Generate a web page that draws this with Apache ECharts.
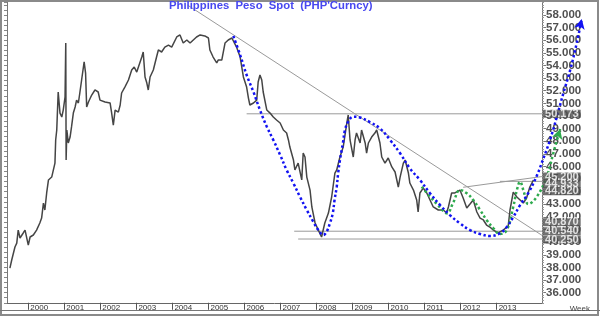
<!DOCTYPE html>
<html>
<head>
<meta charset="utf-8">
<script src="https://cdn.jsdelivr.net/npm/echarts@6/dist/echarts.min.js"></script>
<style>html,body{margin:0;padding:0;background:#fff}#c{width:600px;height:317px}</style>
</head>
<body>
<div id="c"></div>
<script>
// ---- price (weekly) : decimal year / PHP per USD
const priceYears = [1999.49,1999.54,1999.63,1999.68,1999.72,1999.77,1999.86,1999.91,2000.00,2000.05,2000.14,2000.23,2000.32,2000.37,2000.42,2000.46,2000.51,2000.56,2000.65,2000.74,2000.76,2000.79,2000.83,2000.88,2000.93,2000.97,2001.02,2001.04,2001.05,2001.07,2001.11,2001.16,2001.20,2001.25,2001.30,2001.34,2001.39,2001.43,2001.48,2001.53,2001.55,2001.59,2001.62,2001.67,2001.76,2001.85,2001.94,2001.99,2002.13,2002.27,2002.31,2002.36,2002.41,2002.50,2002.55,2002.59,2002.68,2002.78,2002.87,2002.94,2003.01,2003.15,2003.19,2003.24,2003.29,2003.33,2003.38,2003.47,2003.56,2003.61,2003.70,2003.79,2003.89,2003.98,2004.12,2004.21,2004.30,2004.40,2004.49,2004.58,2004.67,2004.77,2004.90,2005.00,2005.04,2005.13,2005.23,2005.27,2005.37,2005.46,2005.55,2005.65,2005.69,2005.78,2005.88,2005.97,2006.06,2006.11,2006.15,2006.25,2006.34,2006.38,2006.43,2006.48,2006.52,2006.62,2006.71,2006.80,2006.89,2006.99,2007.08,2007.17,2007.22,2007.26,2007.36,2007.40,2007.49,2007.59,2007.63,2007.68,2007.73,2007.82,2007.87,2007.96,2008.05,2008.14,2008.23,2008.33,2008.42,2008.51,2008.56,2008.65,2008.74,2008.84,2008.88,2008.93,2009.02,2009.07,2009.11,2009.21,2009.25,2009.35,2009.39,2009.44,2009.53,2009.62,2009.67,2009.76,2009.81,2009.90,2009.99,2010.09,2010.18,2010.27,2010.32,2010.41,2010.46,2010.55,2010.59,2010.69,2010.78,2010.82,2010.87,2010.96,2011.06,2011.15,2011.24,2011.38,2011.52,2011.61,2011.66,2011.75,2011.84,2011.98,2012.07,2012.17,2012.26,2012.35,2012.45,2012.54,2012.63,2012.72,2012.81,2012.91,2013.04,2013.18,2013.32,2013.37,2013.46,2013.56,2013.65,2013.74,2013.83,2013.92,2014.02];
const priceValues = [37.95,38.59,39.62,39.93,40.96,40.33,40.73,40.96,39.77,40.41,40.57,40.96,41.52,41.91,43.10,42.55,43.90,44.93,45.16,46.27,48.10,48.89,51.90,50.23,49.92,50.47,51.50,55.78,46.51,48.89,47.86,48.33,49.13,50.23,50.71,51.26,51.03,51.82,52.85,53.88,54.28,53.40,50.71,51.11,51.66,52.06,51.90,51.26,51.11,51.03,50.31,49.28,50.47,50.31,50.87,51.82,52.29,52.85,53.64,53.88,53.48,54.67,55.07,53.09,52.61,52.06,53.09,53.64,54.67,55.23,55.07,55.46,55.62,55.46,56.26,56.42,55.78,56.02,55.78,56.02,56.26,56.42,56.34,56.18,55.23,54.67,54.20,54.43,54.43,55.78,56.02,56.18,56.26,55.46,54.67,53.09,52.29,51.42,50.87,51.03,51.26,52.69,53.25,52.85,51.90,50.47,50.23,49.92,49.68,49.44,48.89,48.65,48.10,47.54,46.51,45.72,46.27,44.93,47.06,46.75,45.16,44.13,42.79,41.52,40.96,40.41,41.52,42.31,43.58,45.48,45.72,46.75,47.54,49.44,50.08,48.10,46.75,48.10,48.65,47.86,48.89,47.86,47.06,47.86,48.33,48.65,48.89,47.86,46.75,46.27,46.67,45.96,45.56,44.37,45.16,46.27,46.51,45.48,44.69,44.13,43.34,42.39,43.90,44.29,43.90,43.34,42.79,42.55,42.55,42.31,42.79,43.90,43.90,44.13,43.50,42.71,43.02,43.34,42.39,41.91,41.76,41.36,41.20,40.96,40.73,40.96,41.28,42.55,43.97,43.58,43.34,43.10,43.50,44.37,44.93];

// ---- hand-drawn blue wave (years / values)
const blueYears = [2005.69,2005.88,2006.06,2006.25,2006.43,2006.62,2006.80,2006.99,2007.17,2007.36,2007.54,2007.73,2007.91,2008.05,2008.19,2008.28,2008.37,2008.45,2008.50,2008.56,2008.60,2008.65,2008.73,2008.79,2008.88,2009.02,2009.21,2009.48,2009.76,2010.04,2010.32,2010.59,2010.87,2011.15,2011.43,2011.70,2011.98,2012.26,2012.54,2012.81,2013.09,2013.28,2013.46,2013.65,2013.88,2014.11,2014.29,2014.48,2014.67,2014.85,2015.04,2015.22,2015.36];
const blueValues = [56.34,54.83,53.25,51.90,50.47,49.15,48.10,46.91,45.72,44.66,43.60,42.55,41.62,40.96,40.57,40.83,41.49,42.29,43.34,44.39,45.46,46.51,47.83,48.89,49.55,49.94,49.88,49.52,49.02,48.10,47.04,45.85,44.93,43.87,42.94,42.15,41.49,40.96,40.65,40.49,40.70,41.20,41.99,42.94,43.90,45.24,46.59,48.10,49.94,51.80,53.64,55.76,57.68];

// ---- hand-drawn green wave
const greenYears = [2010.92,2011.15,2011.34,2011.52,2011.62,2011.80,2011.98,2012.17,2012.35,2012.54,2012.72,2012.91,2013.09,2013.28,2013.46,2013.56,2013.65,2013.74,2013.88,2014.11,2014.39,2014.57,2014.76];
const greenValues = [44.39,43.60,43.02,42.47,42.29,43.18,44.13,43.87,43.34,42.55,41.76,41.10,40.65,40.96,42.81,44.13,44.79,44.13,43.02,43.58,45.19,47.04,48.97];

// ---- straight study lines: [startYear, startValue, endYear, endValue]
const xStart = 1999.409;
const xEnd = 2014.258;
const xEndWide = 2015.673;
const trendLine = [2004.42, 58.79, xEnd, 40.54];
const resistLine = [2006.06, 50.173, xEnd, 50.173];
const supportLine1 = [2007.38, 40.87, xEnd, 40.87];
const supportLine2 = [2007.49, 40.25, xEnd, 40.25];
const rangeLine = [2013.09, 44.82, xEnd, 44.82];
const slantLine = [2012.07, 44.35, xEnd, 45.20];

// ---- axis tick labels
const yearTicks = [2000,2001,2002,2003,2004,2005,2006,2007,2008,2009,2010,2011,2012,2013];
const priceTicks = [36,37,38,39,40,41,42,43,44,45,46,47,48,49,50,51,52,53,54,55,56,57,58];
const flagValues = [50.173, 45.200, 44.933, 44.820, 40.870, 40.540, 40.250];
const flagShift = [0, 0, 4, 10, -9, -4, 0.5];

const zip = (xs, ys) => xs.map((x, i) => [x, ys[i]]);
const seg = a => [[a[0], a[1]], [a[2], a[3]]];
const withArrow = (pts, rot) => pts.map((p, i) => i === pts.length - 1
  ? {value: p, symbol: 'arrow', symbolSize: [8, 10], symbolRotate: rot} : p);

const chart = echarts.init(document.getElementById('c'), null, {renderer: 'canvas'});
const gray = '#9a9a9a';
const lineSeries = (d) => ({type: 'line', data: seg(d), symbol: 'none', silent: true, animation: false,
  lineStyle: {color: gray, width: 1}, z: 2});
const Y_MIN = 35.2, Y_MAX = 59;

chart.setOption({
  animation: false,
  backgroundColor: '#fff',
  title: {
    text: "Philippines  Peso  Spot  (PHP'Curncy)",
    left: 169, top: 0, padding: 0,
    textStyle: {color: '#4848f0', fontSize: 11.3, fontWeight: 'bold', fontFamily: 'Liberation Sans'}
  },
  grid: [
    {left: 7, right: 58, top: 2.4, bottom: 14.24, containLabel: false, outerBoundsMode: 'none'},
    {left: 7, right: 7, top: 2.4, bottom: 14.24, containLabel: false, outerBoundsMode: 'none'}
  ],
  xAxis: [
    {type: 'value', gridIndex: 0, min: xStart, max: xEnd,
      axisLine: {show: true, lineStyle: {color: '#666', width: 1}},
      axisTick: {show: true, inside: false, length: 7, lineStyle: {color: '#555'}, customValues: yearTicks},
      axisLabel: {show: true, customValues: yearTicks, formatter: v => String(v), align: 'left', margin: 0,
        padding: [1, 0, 0, 2], color: '#333', fontSize: 8, fontFamily: 'Liberation Sans'},
      splitLine: {show: false}},
    {type: 'value', gridIndex: 1, min: xStart, max: xEndWide, show: false}
  ],
  yAxis: [
    {type: 'value', gridIndex: 0, position: 'right', min: Y_MIN, max: Y_MAX,
      axisLine: {show: true, lineStyle: {color: '#777'}},
      axisTick: {show: true, inside: false, length: 4, lineStyle: {color: '#777'}, customValues: priceTicks},
      axisLabel: {show: true, customValues: priceTicks, formatter: v => v.toFixed(3), margin: 4,
        color: '#505050', fontSize: 11.5, fontWeight: 'bold', fontFamily: 'Liberation Sans'},
      splitLine: {show: false}},
    {type: 'value', gridIndex: 0, position: 'right', min: Y_MIN, max: Y_MAX, interval: 0.2,
      axisLine: {show: false}, axisTick: {show: true, inside: false, length: 2, lineStyle: {color: '#999'}},
      axisLabel: {show: false}, splitLine: {show: false}},
    {type: 'value', gridIndex: 0, position: 'left', min: Y_MIN, max: Y_MAX, interval: 0.4,
      axisLine: {show: true, lineStyle: {color: '#777'}},
      axisTick: {show: true, inside: false, length: 3, lineStyle: {color: '#888'}},
      axisLabel: {show: false}, splitLine: {show: false}},
    {type: 'value', gridIndex: 1, min: Y_MIN, max: Y_MAX, show: false}
  ],
  series: [
    lineSeries(trendLine), lineSeries(resistLine), lineSeries(supportLine1), lineSeries(supportLine2),
    lineSeries(rangeLine), lineSeries(slantLine),
    {type: 'line', name: 'PHP', data: zip(priceYears, priceValues), symbol: 'none', animation: false,
      lineStyle: {color: '#454545', width: 1.5}, z: 3},
    {type: 'line', xAxisIndex: 1, yAxisIndex: 3, data: withArrow(zip(greenYears, greenValues), -17),
      smooth: 0.4, symbol: 'none', clip: false,
      lineStyle: {color: '#2eaa4e', width: 2.5, type: 'dotted'}, itemStyle: {color: '#2eaa4e'}, z: 4},
    {type: 'line', xAxisIndex: 1, yAxisIndex: 3, data: withArrow(zip(blueYears, blueValues), -13),
      smooth: 0.4, symbol: 'none', clip: false,
      lineStyle: {color: '#1212f2', width: 2.5, type: 'dotted'}, itemStyle: {color: '#1212f2'}, z: 5},
    {type: 'scatter', clip: false, symbolSize: 0.1, itemStyle: {color: 'rgba(0,0,0,0)'}, z: 10, silent: true,
      data: flagValues.map((v, i) => ({value: [xEnd, v], label: {offset: [0, flagShift[i]]}})),
      label: {show: true, position: 'right', distance: 1, formatter: p => p.value[1].toFixed(3),
        color: '#fff', backgroundColor: '#4e4e4e', fontSize: 11, fontWeight: 'bold',
        fontFamily: 'Liberation Sans', lineHeight: 8, padding: [0, 2, 0, 2]}}
  ],
  graphic: [
    {type: 'rect', shape: {x: 1, y: 1, width: 597, height: 314}, style: {fill: 'none', stroke: '#8a8a8a', lineWidth: 2}, silent: true},
    {type: 'line', shape: {x1: 0, y1: 310.5, x2: 600, y2: 310.5}, style: {stroke: '#777', lineWidth: 1}, silent: true},
    {type: 'text', right: 10, top: 305, style: {text: 'Week', fontSize: 8, fill: '#444', fontFamily: 'Liberation Sans'}, silent: true}
  ]
});
</script>
</body>
</html>
